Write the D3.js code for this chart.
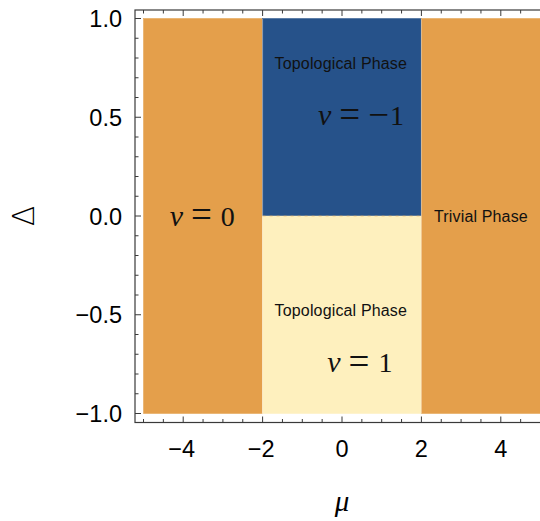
<!DOCTYPE html>
<html>
<head>
<meta charset="utf-8">
<script src="https://cdn.jsdelivr.net/npm/d3@7"></script>
<style>
  body { margin: 0; background: #fff; }
  svg { display: block; }
</style>
</head>
<body>
<div id="chart"></div>
<script>
// phase regions (mu range, delta range, winding number)
var regionMuStart = [-5, -2, -2, 2]
var regionMuEnd = [-2, 2, 2, 5]
var regionDeltaStart = [-1, 0, -1, -1]
var regionDeltaEnd = [1, 1, 0, 1]
var regionWinding = [0, -1, 1, 0]

var xTicks = [-4, -2, 0, 2, 4]
var yTicks = [-1.0, -0.5, 0.0, 0.5, 1.0]

// annotations
var phaseText = ["Topological Phase", "Trivial Phase", "Topological Phase"]
var phaseTextMu = [-0.03, 3.5, -0.03]
var phaseTextDelta = [0.745, -0.03, -0.505]
var nuValue = ["\u22121", "0", "1"]
var nuMu = [0.48, -3.52, 0.45]
var nuDelta = [0.46, -0.05, -0.79]

var width = 540
var height = 521

var colors = { "0": "#e49f4b", "-1": "#26528a", "1": "#fef0be" }

var svg = d3.select('#chart').append('svg')
  .attr('width', width).attr('height', height)

var x = d3.scaleLinear().domain([-5, 5]).range([143.5, 540.5])
var y = d3.scaleLinear().domain([-1, 1]).range([413.5, 18.5])

var frame = { left: 135, top: 10, right: 541, bottom: 422.5 }

// regions
var regions = regionWinding.map(function(w, i) {
  return { x0: regionMuStart[i], x1: regionMuEnd[i], y0: regionDeltaStart[i], y1: regionDeltaEnd[i], w: w }
})

svg.append('g').selectAll('rect')
  .data(regions)
  .enter().append('rect')
  .attr('x', function(d) { return x(d.x0) })
  .attr('y', function(d) { return y(d.y1) })
  .attr('width', function(d) { return x(d.x1) - x(d.x0) })
  .attr('height', function(d) { return y(d.y0) - y(d.y1) })
  .attr('fill', function(d) { return colors[d.w] })
  .attr('stroke', function(d) { return colors[d.w] })
  .attr('stroke-width', 0.5)

// faint boundaries between phases
svg.append('g').selectAll('line')
  .data([-2, 2])
  .enter().append('line')
  .attr('x1', function(d) { return x(d) }).attr('x2', function(d) { return x(d) })
  .attr('y1', y(1)).attr('y2', y(-1))
  .attr('stroke', 'rgba(255,255,255,0.35)')
  .attr('stroke-width', 1)

svg.append('line')
  .attr('x1', x(-2)).attr('x2', x(2))
  .attr('y1', y(0)).attr('y2', y(0))
  .attr('stroke', 'rgba(228,159,75,0.45)')
  .attr('stroke-width', 1)
  .attr('stroke-dasharray', '3,4')

// frame
svg.append('rect')
  .attr('x', frame.left).attr('y', frame.top)
  .attr('width', frame.right - frame.left)
  .attr('height', frame.bottom - frame.top)
  .attr('fill', 'none')
  .attr('stroke', '#3a3a3a')
  .attr('stroke-width', 1.2)

// ticks, pointing inward
var xMinor = d3.range(-5, 5.001, 0.5)
var yMinor = d3.range(-1, 1.001, 0.1)
function isMajor(v, list) {
  return list.some(function(t) { return Math.abs(t - v) < 1e-6 })
}

var tickG = svg.append('g').attr('stroke', '#3a3a3a').attr('stroke-width', 1)
xMinor.forEach(function(v) {
  var len = isMajor(v, xTicks) ? 6 : 3.5
  tickG.append('line').attr('x1', x(v)).attr('x2', x(v))
    .attr('y1', frame.bottom).attr('y2', frame.bottom - len)
  tickG.append('line').attr('x1', x(v)).attr('x2', x(v))
    .attr('y1', frame.top).attr('y2', frame.top + len)
})
yMinor.forEach(function(v) {
  var len = isMajor(v, yTicks) ? 6 : 3.5
  tickG.append('line').attr('x1', frame.left).attr('x2', frame.left + len)
    .attr('y1', y(v)).attr('y2', y(v))
})

// tick labels: minus sign drawn as its own tspan so it gets some room
function signedLabel(sel, str) {
  if (str[0] === '-') {
    sel.append('tspan').text('\u2212')
    sel.append('tspan').attr('dx', 1.5).text(str.slice(1))
  } else {
    sel.text(str)
  }
}

svg.append('g').selectAll('text')
  .data(xTicks)
  .enter().append('text')
  .attr('x', function(d) { return x(d) - (d < 0 ? 1.5 : 0) })
  .attr('y', 457)
  .attr('text-anchor', 'middle')
  .style('font-family', 'Liberation Sans, Arial, sans-serif')
  .style('font-size', '23.5px')
  .each(function(d) { signedLabel(d3.select(this), d3.format('d')(d)) })

svg.append('g').selectAll('text')
  .data(yTicks)
  .enter().append('text')
  .attr('x', 122)
  .attr('y', function(d) { return y(d) + 8.5 })
  .attr('text-anchor', 'end')
  .style('font-family', 'Liberation Sans, Arial, sans-serif')
  .style('font-size', '23.5px')
  .each(function(d) { signedLabel(d3.select(this), d3.format('.1f')(d)) })

// axis labels
svg.append('text')
  .attr('transform', 'translate(34,216) rotate(-90)')
  .attr('text-anchor', 'middle')
  .style('font-family', 'DejaVu Sans, sans-serif')
  .style('font-size', '30px')
  .style('font-weight', 200)
  .text('\u0394')

svg.append('text')
  .attr('x', 342).attr('y', 511)
  .attr('text-anchor', 'middle')
  .style('font-family', 'Liberation Serif, serif')
  .style('font-style', 'italic')
  .style('font-size', '29px')
  .text('\u03bc')

// phase names
svg.append('g').selectAll('text')
  .data(phaseText)
  .enter().append('text')
  .attr('x', function(d, i) { return x(phaseTextMu[i]) })
  .attr('y', function(d, i) { return y(phaseTextDelta[i]) })
  .attr('text-anchor', 'middle')
  .style('font-family', 'Liberation Sans, Arial, sans-serif')
  .style('font-size', '16px')
  .style('letter-spacing', '0.15px')
  .style('fill', '#111')
  .text(function(d) { return d })

// winding numbers, spaced like typeset math (bigger = and − glyphs)
var nuText = svg.append('g').selectAll('text')
  .data(nuValue)
  .enter().append('text')
  .attr('x', function(d, i) { return x(nuMu[i]) })
  .attr('y', function(d, i) { return y(nuDelta[i]) })
  .attr('text-anchor', 'middle')
  .style('font-family', 'Liberation Serif, serif')
  .style('font-size', '28px')
  .style('fill', '#111')

nuText.append('tspan').style('font-style', 'italic').style('font-size', '30px').text('\u03bd')
nuText.append('tspan').attr('dx', 8).attr('dy', 1.5).style('font-size', '37px').text('=')
nuText.each(function(d) {
  var t = d3.select(this)
  if (d[0] === '\u2212') {
    t.append('tspan').attr('dx', 8).style('font-size', '37px').text('\u2212')
    t.append('tspan').attr('dx', 1).attr('dy', -1.5).text(d.slice(1))
  } else {
    t.append('tspan').attr('dx', 9).attr('dy', -1.5).text(d)
  }
})
</script>
</body>
</html>
